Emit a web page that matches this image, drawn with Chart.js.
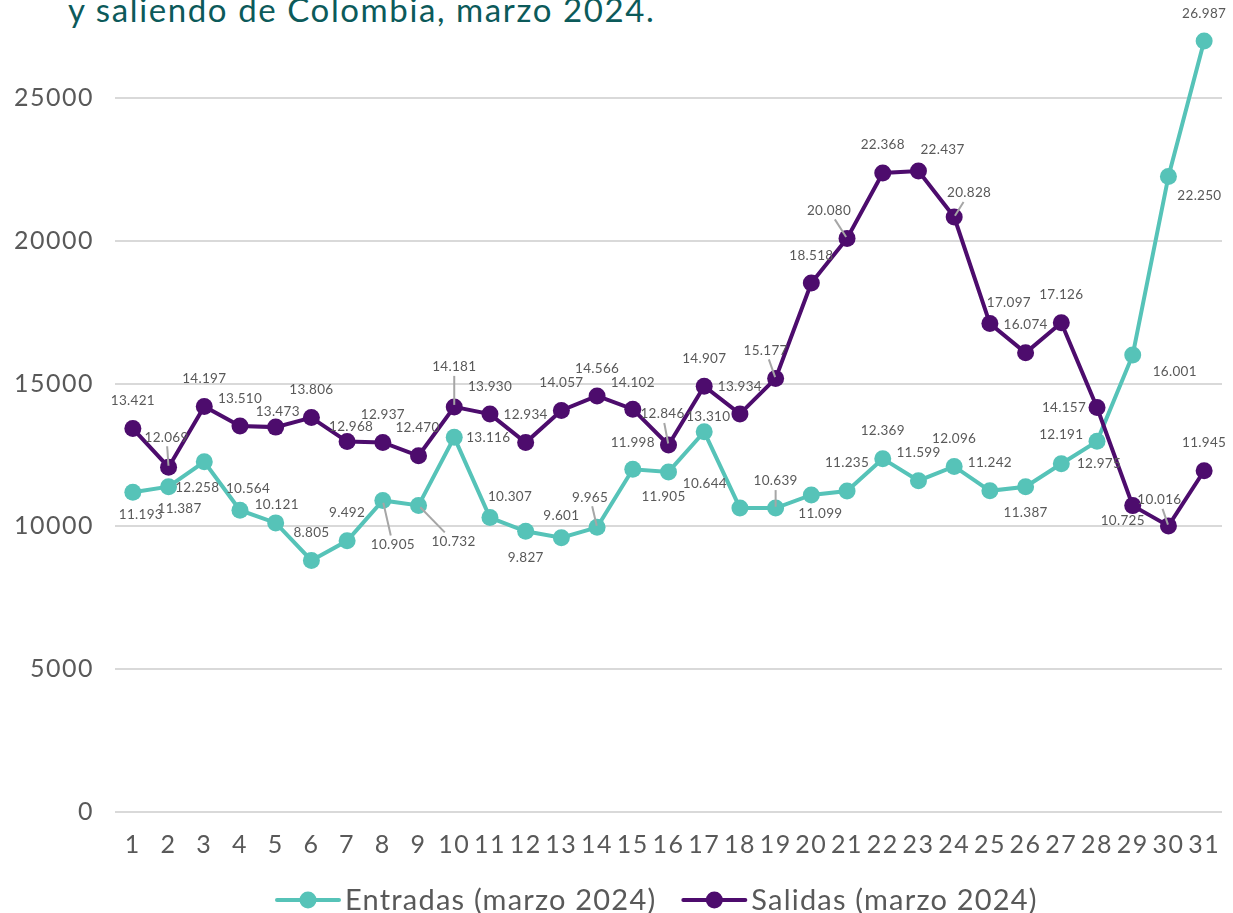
<!DOCTYPE html>
<html>
<head>
<meta charset="utf-8">
<script src="https://cdn.jsdelivr.net/npm/chart.js@4/dist/chart.umd.min.js"></script>
<style>
  html, body { margin: 0; padding: 0; background: #ffffff; overflow: hidden; }
  body { width: 1233px; height: 913px; position: relative; }
  #title { position: absolute; left: 68px; top: -7px; font-family: "Lato", sans-serif; font-size: 33px; line-height: 33px;
           color: #0c5a5a; white-space: nowrap; letter-spacing: 1.6px; }
  #wrap { position: absolute; left: 0; top: -110px; width: 1233px; height: 1023px; }
</style>
</head>
<body>
<div id="title">y saliendo de Colombia, marzo 2024.</div>
<div id="wrap"><canvas id="c" width="1233" height="1023"></canvas></div>
<script>
// ---- data ----
const days = ['1','2','3','4','5','6','7','8','9','10','11','12','13','14','15','16','17','18','19','20','21','22','23','24','25','26','27','28','29','30','31'];
const entradas = [11193, 11387, 12258, 10564, 10121, 8805, 9492, 10905, 10732, 13116, 10307, 9827, 9601, 9965, 11998, 11905, 13310, 10644, 10639, 11099, 11235, 12369, 11599, 12096, 11242, 11387, 12191, 12975, 16001, 22250, 26987];
const salidas = [13421, 12069, 14197, 13510, 13473, 13806, 12968, 12937, 12470, 14181, 13930, 12934, 14057, 14566, 14102, 12846, 14907, 13934, 15177, 18518, 20080, 22368, 22437, 20828, 17097, 16074, 17126, 14157, 10725, 10016, 11945];
const seriesNames = ['Entradas (marzo 2024)', 'Salidas (marzo 2024)'];
const yTickStep = 5000;
const yMax = 30000;

// ---- label placement (offsets from each point, in px) ----
const entradasLabelOffsets = [[8,22],[11,22],[-7,26],[8,-22],[1,-18],[0,-28],[0,-28],[10,44],[35,36],[34,0],[20,-21],[0,26],[0,-22],[-7,-30],[0,-27],[-5,25],[4,-15],[-35,-24],[0,-27],[9,19],[0,-28],[0,-28],[0,-28],[0,-28],[0,-28],[0,26],[0,-29],[2,22],[42,17],[31,19],[0,-27]];
const salidasLabelOffsets = [[0,-28],[-2,-30],[0,-28],[0,-27],[2,-15],[0,-28],[4,-15],[0,-28],[-1,-28],[0,-40],[0,-27],[0,-28],[0,-28],[0,-27],[0,-27],[-6,-31],[0,-28],[0,-27],[-10,-28],[0,-27],[-18,-28],[0,-28],[24,-21],[15,-24],[19,-21],[0,-28],[0,-28],[-33,0],[-10,15],[-9,-26],[0,-28]];
const entradasLeaders = [8, 9, 14, 19];
const salidasLeaders = [2, 10, 16, 19, 21, 24, 30];

const TEAL = '#56c3b8';
const PURPLE = '#4d0c6d';
const TEXT = '#595959';
const FONT = '"Lato", "Open Sans", sans-serif';

function fmt(v) {
  const s = String(v);
  return s.length > 3 ? s.slice(0, s.length - 3) + '.' + s.slice(-3) : s;
}

const spacing = {
  id: 'spacing',
  beforeDraw(chart) { chart.ctx.letterSpacing = '1.5px'; },
  afterDatasetsDraw(chart) { chart.ctx.letterSpacing = '0px'; }
};

const valueLabels = {
  id: 'valueLabels',
  afterDatasetsDraw(chart) {
    const ctx = chart.ctx;
    const offsets = [entradasLabelOffsets, salidasLabelOffsets];
    const leaders = [entradasLeaders, salidasLeaders];
    ctx.save();
    ctx.letterSpacing = '0.3px';
    ctx.font = '13.5px ' + FONT;
    ctx.textAlign = 'center';
    ctx.textBaseline = 'middle';
    chart.data.datasets.forEach((ds, di) => {
      const meta = chart.getDatasetMeta(di);
      meta.data.forEach((pt, i) => {
        const txt = fmt(ds.data[i]);
        const lx = pt.x + offsets[di][i][0];
        const ly = pt.y + offsets[di][i][1];
        if (leaders[di].includes(i + 1)) {
          const hw = ctx.measureText(txt).width / 2 + 3;
          const hh = 9;
          const dx = pt.x - lx, dy = pt.y - ly;
          const tx = dx !== 0 ? hw / Math.abs(dx) : Infinity;
          const ty = dy !== 0 ? hh / Math.abs(dy) : Infinity;
          const t = Math.min(tx, ty);
          ctx.beginPath();
          ctx.strokeStyle = '#a6a6a6';
          ctx.lineWidth = 2;
          ctx.moveTo(lx + dx * t, ly + dy * t);
          ctx.lineTo(pt.x - dx * 0.05, pt.y - dy * 0.05);
          ctx.stroke();
        }
        ctx.fillStyle = TEXT;
        ctx.fillText(txt, lx, ly);
      });
    });
    ctx.restore();
  }
};

const customLegend = {
  id: 'customLegend',
  afterDraw(chart) {
    const ctx = chart.ctx;
    const y = 1010;
    let x = 277;
    ctx.save();
    ctx.letterSpacing = '1.2px';
    ctx.font = '29px ' + FONT;
    ctx.textBaseline = 'middle';
    ctx.textAlign = 'left';
    chart.data.datasets.forEach((ds) => {
      const lineW = 62;
      ctx.strokeStyle = ds.borderColor;
      ctx.lineWidth = 4;
      ctx.lineCap = 'round';
      ctx.beginPath();
      ctx.moveTo(x, y); ctx.lineTo(x + lineW, y); ctx.stroke();
      ctx.fillStyle = ds.borderColor;
      ctx.beginPath(); ctx.arc(x + lineW / 2, y, 8.5, 0, Math.PI * 2); ctx.fill();
      ctx.fillStyle = TEXT;
      const tx = x + lineW + 6;
      ctx.fillText(ds.label, tx, y + 1);
      x = tx + ctx.measureText(ds.label).width + 27;
    });
    ctx.restore();
  }
};

new Chart(document.getElementById('c'), {
  type: 'line',
  data: {
    labels: days,
    datasets: [
      { label: seriesNames[0], data: entradas, borderColor: TEAL, backgroundColor: TEAL,
        borderWidth: 4, pointRadius: 8.5, pointHoverRadius: 8.5, pointBackgroundColor: TEAL, pointBorderWidth: 0, tension: 0, order: 1 },
      { label: seriesNames[1], data: salidas, borderColor: PURPLE, backgroundColor: PURPLE,
        borderWidth: 4, pointRadius: 8.5, pointHoverRadius: 8.5, pointBackgroundColor: PURPLE, pointBorderWidth: 0, tension: 0, order: 0 }
    ]
  },
  options: {
    responsive: false,
    animation: false,
    layout: { padding: { top: 65, left: 0, right: 11, bottom: 0 } },
    plugins: { legend: { display: false }, tooltip: { enabled: false }, title: { display: false } },
    scales: {
      x: {
        offset: true,
        grid: { display: false, drawTicks: false },
        border: { display: false },
        ticks: { color: TEXT, font: { family: FONT, size: 25 }, padding: 18, maxRotation: 0, autoSkip: false },
        afterFit(scale) { scale.height = 101; scale.paddingLeft = 0; scale.paddingRight = 0; }
      },
      y: {
        min: 0, max: yMax,
        grid: { color: '#d9d9d9', lineWidth: 2, drawTicks: false },
        border: { display: false },
        ticks: { stepSize: yTickStep, color: TEXT, font: { family: FONT, size: 25 }, padding: 21,
                 callback: (v) => String(v) },
        afterFit(scale) { scale.width = 115; }
      }
    }
  },
  plugins: [spacing, valueLabels, customLegend]
});
</script>
</body>
</html>
